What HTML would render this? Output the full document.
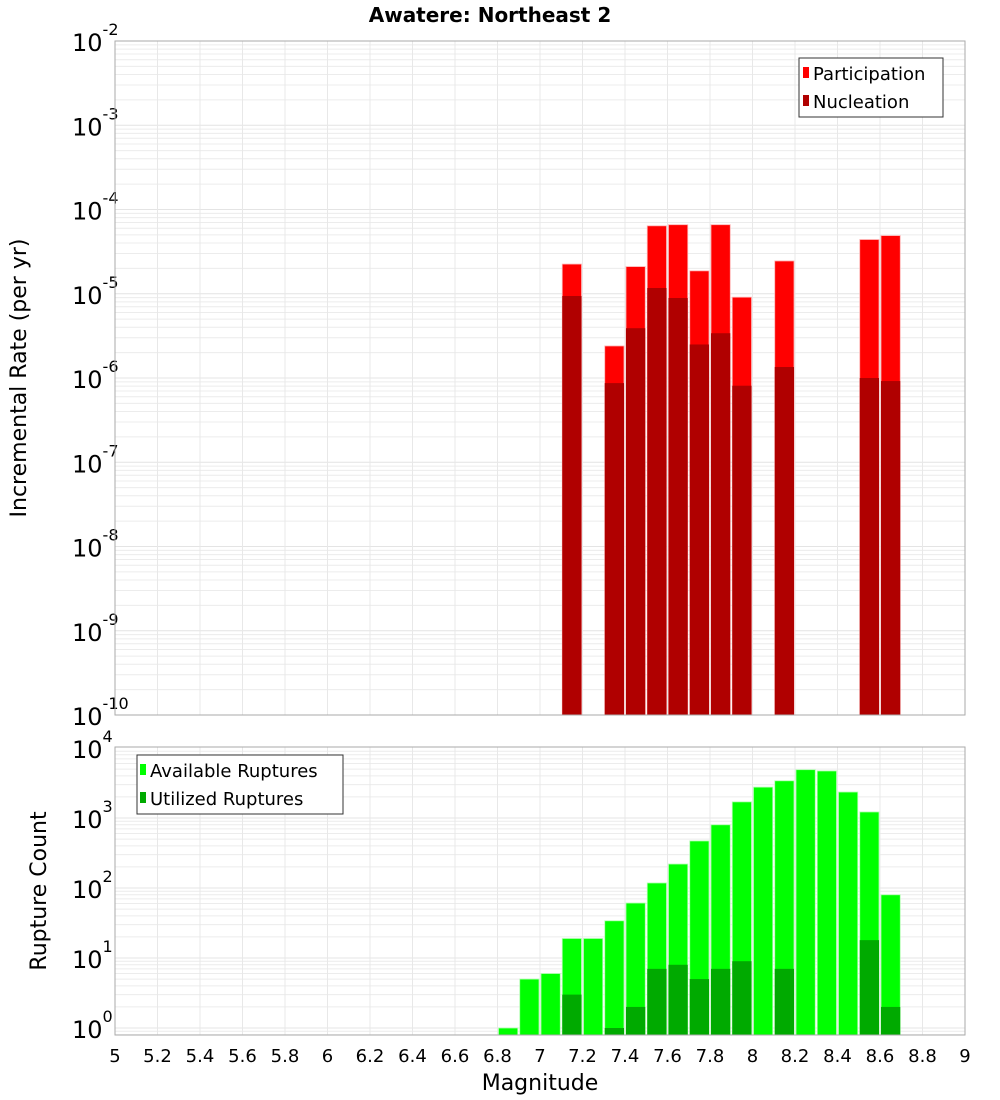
<!DOCTYPE html>
<html><head><meta charset="utf-8"><style>
body{margin:0;background:#fff;width:1000px;height:1100px;overflow:hidden}
svg{display:block;font-family:"DejaVu Sans","Liberation Sans",sans-serif}
</style></head><body>
<svg id="chart" width="1000" height="1100">
<text x="490" y="22" text-anchor="middle" font-weight="bold" font-size="20">Awatere: Northeast 2</text>
<g id="topPanel"></g>
<g id="botPanel"></g>
<text transform="translate(26,378) rotate(-90)" text-anchor="middle" font-size="22">Incremental Rate (per yr)</text>
<text transform="translate(46,891) rotate(-90)" text-anchor="middle" font-size="22">Rupture Count</text>
<text x="540" y="1090" text-anchor="middle" font-size="22">Magnitude</text>
<g>
<rect x="799" y="58" width="144" height="59" fill="#fff" stroke="#333"/>
<rect x="803" y="67" width="6" height="11" fill="#ff0000"/>
<text x="813" y="80" font-size="18">Participation</text>
<rect x="803" y="95" width="6" height="11" fill="#b00000"/>
<text x="813" y="108" font-size="18">Nucleation</text>
</g>
<g>
<rect x="137" y="755" width="206" height="59" fill="#fff" stroke="#333"/>
<rect x="140" y="764" width="6" height="11" fill="#00ff00"/>
<text x="150" y="777" font-size="18">Available Ruptures</text>
<rect x="140" y="792" width="6" height="11" fill="#00aa00"/>
<text x="150" y="805" font-size="18">Utilized Ruptures</text>
</g>
</svg>
<script>
const xTicks=[5,5.2,5.4,5.6,5.8,6,6.2,6.4,6.6,6.8,7,7.2,7.4,7.6,7.8,8,8.2,8.4,8.6,8.8,9];
const rateMags=[7.15,7.35,7.45,7.55,7.65,7.75,7.85,7.95,8.15,8.55,8.65];
const participation=[2.25e-5,2.4e-6,2.1e-5,6.4e-5,6.6e-5,1.87e-5,6.6e-5,9.1e-6,2.45e-5,4.4e-5,4.9e-5];
const nucleation=[9.4e-6,8.7e-7,3.9e-6,1.17e-5,8.9e-6,2.5e-6,3.4e-6,8.1e-7,1.35e-6,1.0e-6,9.2e-7];
const countMags=[6.85,6.95,7.05,7.15,7.25,7.35,7.45,7.55,7.65,7.75,7.85,7.95,8.05,8.15,8.25,8.35,8.45,8.55,8.65];
const available=[1,5,6,19,19,34,61,118,220,470,800,1700,2760,3400,4900,4700,2350,1220,80];
const utilized=[0,0,0,3,0,1,2,7,8,5,7,9,0,7,0,0,0,18,2];
const topDecades=[-10,-9,-8,-7,-6,-5,-4,-3,-2];
const botDecades=[0,1,2,3,4];

const NS='http://www.w3.org/2000/svg';
const X0=115,X1=965;
const xs=m=>X0+(m-5)/4*(X1-X0);
const BW=21.25;
function el(p,t,a){const e=document.createElementNS(NS,t);for(const k in a)e.setAttribute(k,a[k]);p.appendChild(e);return e;}
function panel(g,yT,yB,lmin,lmax,decades,yfun,name){
  for(let d=Math.floor(lmin);d<Math.ceil(lmax);d++)for(let k=1;k<10;k++){
    const y=yfun(Math.pow(10,d)*k);
    if(y<yT||y>yB)continue;
    const l=el(g,'line',{x1:X0,x2:X1,y1:y,y2:y,stroke:k==1?'#e4e4e4':'#ececec','stroke-width':1});
    
    
  }
  xTicks.forEach(t=>{
    const l=el(g,'line',{x1:xs(t),x2:xs(t),y1:yT,y2:yB,stroke:'#e8e8e8'});
    
    
  });
  decades.forEach(d=>{
    const y=yfun(Math.pow(10,d));
    const t=el(g,'text',{x:72,y:y+10,'font-size':24});
    
    
    t.appendChild(document.createTextNode('10'));
    const s=el(t,'tspan',{dy:-16,'font-size':16});
    s.textContent=String(d);
  });
}
const gTop=document.getElementById('topPanel'),gBot=document.getElementById('botPanel');
const TT=41,TB=715;
const yTop=v=>TB-(Math.log10(v)+10)/8*(TB-TT);
panel(gTop,TT,TB,-10,-2,topDecades,yTop,'top');
const BT=747,BB=1035;
const yBot=v=>1028-Math.log10(v)*70;
panel(gBot,BT,BB,-0.1,4,botDecades,yBot,'bottom');

rateMags.forEach((m,i)=>{
  const x=xs(m)-BW/2+1;
  let y=yTop(participation[i]);
  let r=el(gTop,'rect',{x:x,y:y,width:BW-2,height:TB-y,fill:'#ff0000',stroke:'#ffb0b0','stroke-width':0.8});
  
  
  y=yTop(nucleation[i]);
  r=el(gTop,'rect',{x:x,y:y,width:BW-2,height:TB-y,fill:'#b00000'});
  
  
});
countMags.forEach((m,i)=>{
  const x=xs(m)-BW/2+1;
  let y=yBot(available[i]);
  let r=el(gBot,'rect',{x:x,y:y,width:BW-2,height:BB-y,fill:'#00ff00',stroke:'#b0ffb0','stroke-width':0.8});
  
  
  if(utilized[i]>0){
    y=yBot(utilized[i]);
    r=el(gBot,'rect',{x:x,y:y,width:BW-2,height:BB-y,fill:'#00aa00'});
    
    
  }
});
[[gTop,TT,TB],[gBot,BT,BB]].forEach(([g,a,b])=>{
  const r=el(g,'rect',{x:X0,y:a,width:X1-X0,height:b-a,fill:'none',stroke:'#aaa'});
  
  
});
xTicks.forEach(t=>{
  const tx=el(gBot,'text',{x:xs(t),y:1062,'text-anchor':'middle','font-size':18});
  
  
  tx.textContent=String(t);
});
</script>
</body></html>
